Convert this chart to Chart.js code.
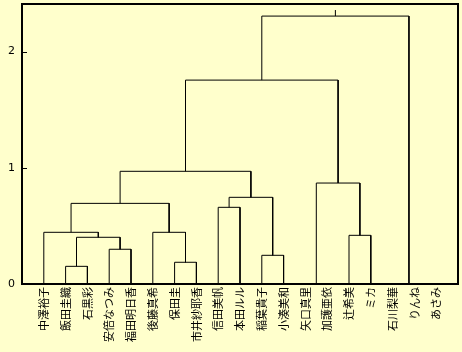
<!DOCTYPE html>
<html>
<head>
<meta charset="utf-8">
<script src="https://cdn.jsdelivr.net/npm/chart.js@4/dist/chart.umd.min.js"></script>
<style>
  body { margin: 0; background: #ffffcc; }
  canvas { display: block; }
</style>
</head>
<body>
<canvas id="dendro" width="462" height="352"></canvas>
<script>
// leaves, left to right
let leafLabels = ['中澤裕子', '飯田圭織', '石黒彩', '安倍なつみ', '福田明日香', '後藤真希', '保田圭',
    '市井紗耶香', '信田美帆', '本田ルル', '稲葉貴子', '小湊美和', '矢口真里', '加護亜依', '辻希美',
    'ミカ', '石川梨華', 'りんね', 'あさみ'];

// merges, hclust style: negative = leaf number, positive = earlier merge step
let mergeLeft   = [-13, -18, -17, -2, -7, -11, -4, 4, -15, -1, -6, -9, 10, 12, 1, 13, 16, 17];
let mergeRight  = [-14, -19, 2, -3, -8, -12, -5, 7, -16, 8, 5, -10, 11, 6, 9, 14, 15, 3];
let mergeHeight = [0, 0, 0, 0.152, 0.187, 0.247, 0.299, 0.402, 0.419, 0.445, 0.445, 0.660,
    0.694, 0.746, 0.869, 0.970, 1.755, 2.306];
let rootTop = 2.358;

let yTicks = [0, 1, 2];
let yMax = 2.41;

let nodePos = [];
let nodeHeight = [];

function childInfo(id) {
    if (id < 0) {
        return { x: -id, h: 0 };
    }
    return { x: nodePos[id - 1], h: nodeHeight[id - 1] };
}

let datasets = [];
mergeLeft.forEach((l, i) => {
    let a = childInfo(l);
    let b = childInfo(mergeRight[i]);
    let h = mergeHeight[i];
    nodePos.push((a.x + b.x) / 2);
    nodeHeight.push(h);
    datasets.push({
        data: [{ x: a.x, y: a.h }, { x: a.x, y: h }, { x: b.x, y: h }, { x: b.x, y: b.h }]
    });
});
let last = nodePos.length - 1;
datasets.push({
    data: [{ x: nodePos[last], y: nodeHeight[last] }, { x: nodePos[last], y: rootTop }]
});
datasets.forEach(d => {
    d.showLine = true;
    d.borderColor = '#000';
    d.borderWidth = 1;
    d.pointRadius = 0;
    d.fill = false;
});

// box round the plot and short y ticks drawn inwards
const framePlugin = {
    id: 'frame',
    afterDraw(chart) {
        const ctx = chart.ctx;
        const a = chart.chartArea;
        const ys = chart.scales.y;
        ctx.save();
        ctx.strokeStyle = '#000';
        ctx.lineWidth = 1;
        yTicks.forEach(v => {
            let y = Math.round(ys.getPixelForValue(v)) + 0.5;
            ctx.beginPath();
            ctx.moveTo(a.left, y);
            ctx.lineTo(a.left + 5, y);
            ctx.stroke();
        });
        ctx.lineWidth = 2;
        ctx.strokeRect(a.left, a.top, a.right - a.left, a.bottom - a.top);
        ctx.restore();
    }
};

new Chart(document.getElementById('dendro'), {
    type: 'scatter',
    data: { datasets: datasets },
    plugins: [framePlugin],
    options: {
        responsive: false,
        animation: false,
        layout: { padding: { top: 4, right: 4, left: 0, bottom: 0 } },
        plugins: { legend: { display: false }, tooltip: { enabled: false } },
        scales: {
            x: {
                type: 'linear',
                min: 0,
                max: 20,
                grid: { display: false, drawTicks: false },
                border: { display: false },
                afterBuildTicks: s => { s.ticks = leafLabels.map((n, i) => ({ value: i + 1 })); },
                afterFit: s => { s.height = 68; s.paddingLeft = 0; s.paddingRight = 0; },
                ticks: {
                    autoSkip: false,
                    minRotation: 90,
                    maxRotation: 90,
                    padding: 3,
                    color: '#000',
                    font: { family: '"Noto Sans CJK JP"', size: 11 },
                    callback: v => leafLabels[v - 1] || ''
                }
            },
            y: {
                min: 0,
                max: yMax,
                grid: { display: false, drawTicks: false },
                border: { display: false },
                afterBuildTicks: s => { s.ticks = yTicks.map(v => ({ value: v })); },
                afterFit: s => { s.width = 22; s.paddingTop = 0; s.paddingBottom = 0; },
                ticks: {
                    padding: 7,
                    color: '#000',
                    font: { family: '"DejaVu Sans"', size: 11 }
                }
            }
        }
    }
});
</script>
</body>
</html>
